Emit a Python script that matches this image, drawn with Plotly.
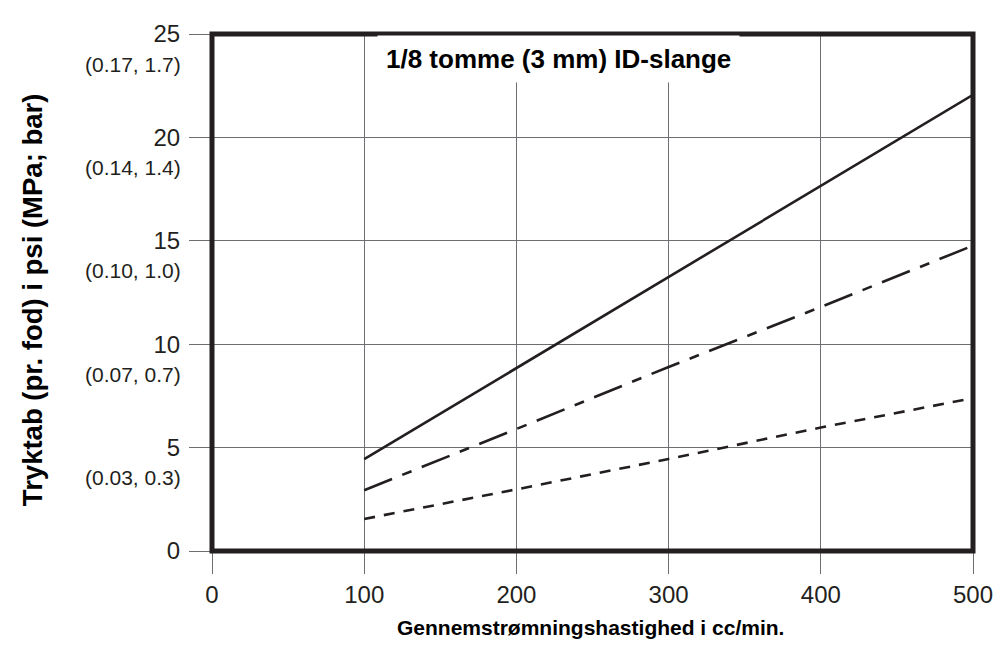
import plotly.graph_objects as go

# flow rate (cc/min) and pressure loss per foot (psi)
flow = [100, 200, 300, 400, 500]
loss_solid = [4.44, 8.85, 13.25, 17.65, 22.06]
loss_dashdot = [2.94, 5.9, 8.9, 11.8, 14.77]
loss_dashed = [1.55, 2.98, 4.45, 5.97, 7.39]

x_ticks = [0, 100, 200, 300, 400, 500]
y_ticks = [0, 5, 10, 15, 20, 25]
y_sub_ticks = [5, 10, 15, 20, 25]
y_sub_labels = ["(0.03, 0.3)", "(0.07, 0.7)", "(0.10, 1.0)", "(0.14, 1.4)", "(0.17, 1.7)"]

title_text = "1/8 tomme (3 mm) ID-slange"
x_title = "Gennemstrømningshastighed i cc/min."
y_title = "Tryktab (pr. fod) i psi (MPa; bar)"

INK = "#231f20"
GRID = "#6d6e71"
FONT = "Liberation Sans, Arial, Helvetica, sans-serif"

fig = go.Figure()
fig.add_trace(go.Scatter(x=flow, y=loss_solid, mode="lines",
                         line={"color": INK, "width": 2.6}))
fig.add_trace(go.Scatter(x=flow, y=loss_dashdot, mode="lines",
                         line={"color": INK, "width": 2.6, "dash": "30px,11px,10px,11px"}))
fig.add_trace(go.Scatter(x=flow, y=loss_dashed, mode="lines",
                         line={"color": INK, "width": 2.6, "dash": "11px,9px"}))

axis_common = {
    "showgrid": True,
    "gridcolor": GRID,
    "gridwidth": 1.2,
    "zeroline": False,
    "ticks": "outside",
    "ticklen": 22,
    "tickcolor": GRID,
    "tickwidth": 1.2,
    "tickfont": {"family": FONT, "size": 24, "color": INK},
    "showline": False,
}

fig.update_xaxes(range=[0, 500], tickvals=x_ticks, ticklabelstandoff=0, **axis_common)
fig.update_yaxes(range=[0, 25], tickvals=y_ticks, ticklabelstandoff=4, **axis_common)

# heavy frame round the plot area
fig.add_shape(type="rect", xref="paper", yref="paper", x0=0, y0=0, x1=1, y1=1,
              line={"color": INK, "width": 5}, layer="above")

annotations = []
for val, lab in zip(y_sub_ticks, y_sub_labels):
    annotations.append({
        "text": lab, "xref": "paper", "yref": "y", "x": 0, "y": val,
        "xanchor": "right", "yanchor": "middle", "xshift": -29, "yshift": -30,
        "showarrow": False, "font": {"family": FONT, "size": 21, "color": INK},
    })

annotations.append({
    "text": f"<b>{title_text}</b>", "xref": "paper", "yref": "paper",
    "x": 0.2173, "y": 0.952, "xanchor": "left", "yanchor": "middle",
    "showarrow": False, "bgcolor": "white", "borderpad": 8,
    "font": {"family": FONT, "size": 26, "color": "black"},
})
annotations.append({
    "text": f"<b>{x_title}</b>", "xref": "paper", "yref": "paper",
    "x": 0.498, "y": -0.148, "xanchor": "center", "yanchor": "middle",
    "showarrow": False, "font": {"family": FONT, "size": 21, "color": "black"},
})
annotations.append({
    "text": f"<b>{y_title}</b>", "xref": "paper", "yref": "paper",
    "x": -0.236, "y": 0.486, "xanchor": "center", "yanchor": "middle",
    "textangle": -90, "showarrow": False,
    "font": {"family": FONT, "size": 27.5, "color": "black"},
})

# page body adds an 8px offset, so the figure is sized to fit the window
fig.update_layout(
    width=997,
    height=638,
    margin={"l": 204, "r": 24.5, "t": 14.7, "b": 95},
    plot_bgcolor="white",
    paper_bgcolor="white",
    showlegend=False,
    annotations=annotations,
)

fig.write_html("out.html")
